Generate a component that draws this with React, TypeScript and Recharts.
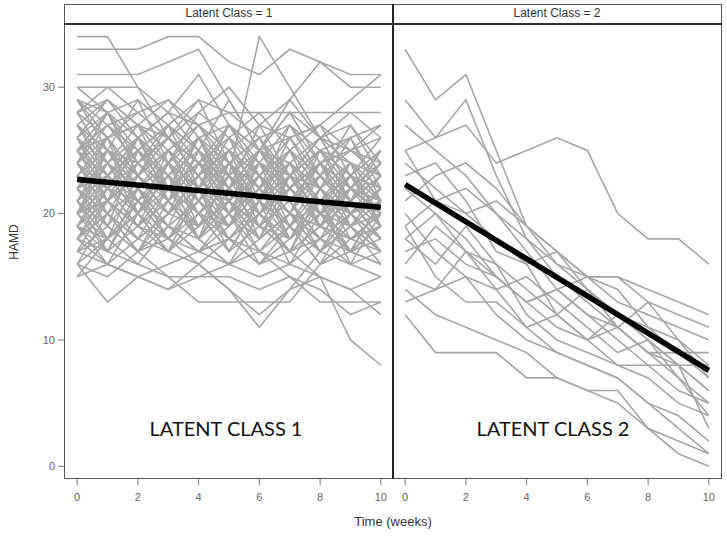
import React from "react";
import { LineChart, Line, XAxis, YAxis } from "recharts";

// weeks of follow-up
const WEEKS = [0, 1, 2, 3, 4, 5, 6, 7, 8, 9, 10];
const X_TICKS = [0, 2, 4, 6, 8, 10];
const Y_TICKS = [0, 10, 20, 30];

// individual HAMD trajectories, class 1 (approximate)
const class1Subjects: number[][] = [
  [33, 33, 33, 34, 34, 32, 31, 33, 32, 31, 31],
  [34, 34, 30, 26, 24, 22, 25, 23, 20, 22, 21],
  [31, 31, 31, 32, 33, 29, 25, 24, 26, 25, 27],
  [30, 30, 30, 28, 27, 28, 28, 28, 28, 28, 28],
  [25, 27, 24, 26, 24, 23, 34, 30, 26, 22, 20],
  [29, 28, 26, 28, 31, 27, 25, 29, 32, 30, 30],
  [28, 29, 27, 26, 28, 30, 27, 26, 27, 29, 31],
  [22, 24, 21, 23, 20, 22, 19, 21, 23, 20, 22],
  [25, 23, 26, 24, 22, 25, 23, 21, 24, 22, 21],
  [20, 22, 19, 21, 23, 20, 18, 20, 19, 21, 19],
  [27, 25, 24, 26, 23, 25, 22, 24, 21, 23, 22],
  [23, 20, 22, 19, 21, 18, 20, 22, 19, 18, 20],
  [26, 28, 25, 23, 25, 22, 24, 23, 25, 21, 23],
  [19, 21, 23, 20, 22, 24, 21, 19, 21, 20, 18],
  [24, 22, 20, 22, 24, 21, 23, 20, 18, 20, 21],
  [21, 19, 22, 24, 21, 19, 22, 24, 22, 19, 20],
  [28, 26, 27, 25, 27, 24, 26, 23, 25, 24, 22],
  [18, 20, 18, 20, 19, 21, 19, 17, 19, 18, 17],
  [22, 25, 23, 21, 19, 21, 24, 22, 20, 22, 24],
  [24, 26, 28, 26, 24, 27, 25, 26, 23, 25, 24],
  [20, 18, 21, 19, 17, 19, 21, 18, 20, 17, 19],
  [26, 24, 22, 24, 26, 23, 21, 23, 21, 23, 20],
  [23, 21, 24, 26, 23, 25, 23, 21, 24, 21, 19],
  [19, 17, 19, 22, 20, 18, 20, 17, 18, 20, 18],
  [25, 27, 24, 22, 24, 26, 24, 27, 24, 22, 25],
  [21, 23, 25, 22, 20, 23, 20, 22, 20, 19, 21],
  [27, 29, 26, 28, 25, 23, 25, 23, 22, 24, 23],
  [17, 19, 17, 18, 20, 17, 19, 21, 18, 16, 17],
  [22, 20, 18, 20, 22, 20, 17, 19, 22, 20, 18],
  [29, 27, 28, 26, 24, 26, 28, 25, 27, 25, 26],
  [23, 25, 22, 24, 22, 19, 22, 20, 19, 22, 20],
  [20, 23, 21, 18, 21, 23, 21, 24, 21, 19, 22],
  [26, 23, 25, 27, 25, 22, 24, 21, 23, 20, 21],
  [18, 16, 18, 17, 19, 21, 18, 20, 17, 19, 16],
  [24, 21, 23, 20, 23, 20, 22, 19, 21, 23, 21],
  [21, 24, 20, 23, 26, 24, 21, 23, 25, 22, 20],
  [25, 22, 21, 23, 21, 24, 26, 22, 20, 18, 19],
  [28, 30, 28, 29, 27, 25, 27, 29, 26, 27, 24],
  [19, 22, 24, 21, 18, 20, 23, 20, 23, 21, 18],
  [22, 19, 17, 19, 18, 16, 18, 20, 17, 19, 17],
  [26, 29, 27, 24, 28, 26, 23, 26, 27, 23, 25],
  [20, 21, 23, 25, 22, 21, 19, 18, 20, 22, 20],
  [23, 22, 19, 21, 24, 22, 25, 22, 20, 21, 23],
  [17, 18, 21, 19, 17, 18, 16, 18, 21, 17, 16],
  [24, 27, 25, 27, 24, 21, 23, 25, 22, 24, 21],
  [21, 18, 20, 23, 20, 22, 20, 17, 19, 17, 19],
  [27, 24, 26, 23, 21, 24, 22, 25, 23, 20, 22],
  [22, 23, 26, 24, 27, 23, 20, 22, 24, 25, 23],
  [18, 21, 19, 17, 20, 19, 22, 19, 16, 18, 20],
  [25, 26, 23, 25, 23, 27, 24, 22, 25, 23, 26],
  [30, 28, 29, 27, 29, 28, 26, 27, 25, 26, 27],
  [16, 18, 20, 18, 16, 18, 17, 16, 18, 17, 16],
  [29, 26, 27, 29, 26, 27, 25, 28, 26, 28, 26],
  [20, 24, 22, 20, 23, 25, 22, 24, 22, 20, 23],
  [23, 26, 22, 25, 21, 24, 20, 23, 19, 22, 20],
  [19, 23, 20, 17, 22, 19, 23, 18, 21, 24, 21],
  [26, 22, 25, 21, 25, 20, 24, 19, 23, 21, 24],
  [21, 17, 21, 18, 22, 17, 21, 19, 16, 20, 17],
  [24, 20, 24, 27, 22, 26, 21, 25, 20, 24, 19],
  [17, 21, 18, 22, 19, 23, 18, 22, 19, 21, 18],
  [28, 24, 27, 22, 26, 21, 25, 28, 24, 21, 25],
  [20, 25, 21, 24, 20, 17, 21, 16, 20, 23, 19],
  [22, 18, 23, 20, 25, 21, 18, 23, 20, 17, 21],
  [25, 28, 24, 21, 26, 22, 27, 23, 26, 22, 24],
  [18, 22, 26, 21, 18, 22, 20, 24, 19, 23, 20],
  [27, 23, 20, 24, 19, 23, 26, 21, 24, 19, 22],
  [16, 20, 17, 21, 18, 16, 20, 18, 22, 18, 19],
  [23, 19, 25, 22, 18, 24, 19, 17, 22, 26, 21],
  [21, 25, 22, 19, 24, 20, 25, 21, 17, 21, 24],
  [26, 21, 19, 24, 22, 18, 21, 26, 22, 19, 17],
  [19, 16, 20, 23, 18, 21, 17, 20, 24, 20, 22],
  [24, 28, 23, 26, 29, 24, 22, 27, 23, 27, 23],
  [20, 17, 22, 18, 21, 25, 20, 17, 21, 16, 20],
  [27, 25, 29, 24, 22, 27, 23, 20, 25, 21, 18],
  [15, 18, 16, 19, 17, 20, 16, 19, 17, 20, 17],
  [22, 26, 20, 25, 21, 19, 24, 21, 18, 22, 19],
  [25, 21, 26, 22, 24, 21, 19, 23, 26, 24, 21],
  [18, 20, 17, 20, 23, 19, 22, 18, 20, 17, 21],
  [29, 25, 23, 27, 25, 29, 25, 22, 24, 26, 22],
  [16, 13, 15, 16, 17, 18, 16, 17, 15, 14, 15],
  [18, 17, 16, 15, 13, 13, 13, 13, 16, 17, 18],
  [19, 18, 20, 17, 16, 14, 11, 14, 17, 16, 15],
  [20, 21, 19, 18, 17, 16, 15, 16, 15, 10, 8],
  [17, 16, 15, 14, 15, 15, 14, 15, 13, 13, 13],
  [16, 15, 17, 15, 15, 16, 17, 15, 14, 12, 13],
  [15, 16, 15, 14, 16, 14, 12, 14, 15, 14, 12],
];

// individual HAMD trajectories, class 2
const class2Subjects: number[][] = [
  [33, 29, 31, 25, 19, 17, 14, 12, 10, 8, 6],
  [29, 26, 29, 23, 18, 15, 13, 11, 9, 7, 5],
  [27, 25, 23, 20, 18, 16, 14, 12, 11, 9, 7],
  [25, 26, 27, 24, 25, 26, 25, 20, 18, 18, 16],
  [24, 22, 20, 21, 19, 17, 15, 13, 12, 11, 10],
  [21, 23, 24, 22, 19, 16, 15, 15, 14, 13, 12],
  [19, 21, 22, 20, 17, 14, 12, 11, 13, 10, 8],
  [18, 16, 19, 16, 14, 12, 14, 11, 9, 8, 6],
  [17, 18, 16, 15, 13, 11, 10, 12, 10, 7, 4],
  [16, 19, 17, 14, 15, 13, 11, 9, 10, 8, 3],
  [15, 14, 17, 15, 13, 14, 12, 10, 8, 6, 5],
  [13, 14, 15, 12, 10, 9, 8, 7, 5, 3, 1],
  [12, 9, 9, 9, 7, 7, 6, 6, 3, 1, 0],
  [20, 17, 15, 14, 11, 9, 8, 7, 5, 4, 2],
  [22, 20, 18, 15, 13, 14, 15, 15, 13, 12, 11],
  [25, 21, 20, 18, 16, 12, 10, 11, 9, 9, 9],
  [19, 15, 13, 13, 11, 12, 10, 8, 7, 5, 4],
  [23, 24, 21, 17, 16, 17, 15, 14, 11, 10, 7],
  [18, 20, 17, 16, 12, 10, 9, 8, 8, 8, 8],
  [14, 12, 11, 10, 9, 7, 6, 5, 3, 2, 1],
];

// fitted class mean trajectories (endpoints at week 0 and week 10)
const class1Fit = [22.7, 20.5];
const class2Fit = [22.3, 7.6];

const buildRows = (subjects: number[][], fit: number[]) =>
  WEEKS.map((w, i) => {
    const row: any = { week: w };
    subjects.forEach((s, j) => {
      row["s" + j] = s[i];
    });
    if (i === 0) row.fit = fit[0];
    if (i === WEEKS.length - 1) row.fit = fit[1];
    return row;
  });

const tickStyle = { fontSize: 11, fill: "#666", fontFamily: "Liberation Sans, Arial, sans-serif" };

interface PanelProps {
  subjects: number[][];
  fit: number[];
  withYAxis: boolean;
  width: number;
}

const Panel = ({ subjects, fit, withYAxis, width }: PanelProps) => {
  const rows = buildRows(subjects, fit);
  return (
    <LineChart
      width={width}
      height={539}
      data={rows}
      margin={{ top: 24, right: withYAxis ? 0 : 6, bottom: 30, left: withYAxis ? 5 : 0 }}
    >
      <XAxis
        dataKey="week"
        type="number"
        domain={[-0.4, 10.4]}
        ticks={X_TICKS}
        axisLine={false}
        tickSize={6}
        tickMargin={8}
        stroke="#777"
        tick={tickStyle}
        height={30}
      />
      <YAxis
        type="number"
        domain={[-1, 35]}
        ticks={Y_TICKS}
        hide={!withYAxis}
        width={60}
        axisLine={false}
        tickSize={7}
        tickMargin={3}
        stroke="#777"
        tick={tickStyle}
      />
      {subjects.map((_, j) => (
        <Line
          key={j}
          dataKey={"s" + j}
          stroke="#a6a6a6"
          strokeWidth={1.6}
          dot={false}
          isAnimationActive={false}
        />
      ))}
      <Line
        dataKey="fit"
        stroke="#000"
        strokeWidth={5.5}
        dot={false}
        connectNulls
        isAnimationActive={false}
      />
    </LineChart>
  );
};

const frameStyle: React.CSSProperties = {
  position: "absolute",
  top: 4,
  height: 475,
  border: "1.5px solid #555",
  boxSizing: "border-box",
  pointerEvents: "none",
};

const stripStyle: React.CSSProperties = {
  position: "absolute",
  top: 4,
  height: 21,
  borderBottom: "2px solid #333",
  boxSizing: "border-box",
  textAlign: "center",
  fontSize: 12,
  lineHeight: "19px",
  color: "#333",
  fontFamily: "Liberation Sans, Arial, sans-serif",
};

const bigLabel: React.CSSProperties = {
  position: "absolute",
  top: 416,
  width: 200,
  textAlign: "center",
  fontSize: 20,
  color: "#111",
  fontFamily: "Lato, 'Open Sans', sans-serif",
};

export default function App() {
  return (
    <div
      style={{
        position: "absolute",
        left: 0,
        top: 0,
        width: 727,
        height: 539,
        background: "#fff",
        fontFamily: "Liberation Sans, Arial, sans-serif",
      }}
    >
      <div style={{ position: "absolute", left: 0, top: 0 }}>
        <Panel subjects={class1Subjects} fit={class1Fit} withYAxis width={393} />
      </div>
      <div style={{ position: "absolute", left: 393, top: 0 }}>
        <Panel subjects={class2Subjects} fit={class2Fit} withYAxis={false} width={334} />
      </div>

      <div style={{ ...frameStyle, left: 64, width: 330 }} />
      <div style={{ ...frameStyle, left: 392, width: 330 }} />
      <div style={{ position: "absolute", left: 392, top: 4, width: 2, height: 475, background: "#222" }} />
      <div style={{ ...stripStyle, left: 64, width: 330 }}>Latent Class = 1</div>
      <div style={{ ...stripStyle, left: 392, width: 330 }}>Latent Class = 2</div>

      <div style={{ ...bigLabel, left: 126 }}>LATENT CLASS 1</div>
      <div style={{ ...bigLabel, left: 453 }}>LATENT CLASS 2</div>

      <div
        style={{
          position: "absolute",
          left: 14,
          top: 242,
          transform: "translate(-50%, -50%) rotate(-90deg)",
          fontSize: 12,
          color: "#333",
        }}
      >
        HAMD
      </div>
      <div
        style={{
          position: "absolute",
          left: 293,
          top: 514,
          width: 200,
          textAlign: "center",
          fontSize: 13,
          color: "#333",
        }}
      >
        Time (weeks)
      </div>
    </div>
  );
}
